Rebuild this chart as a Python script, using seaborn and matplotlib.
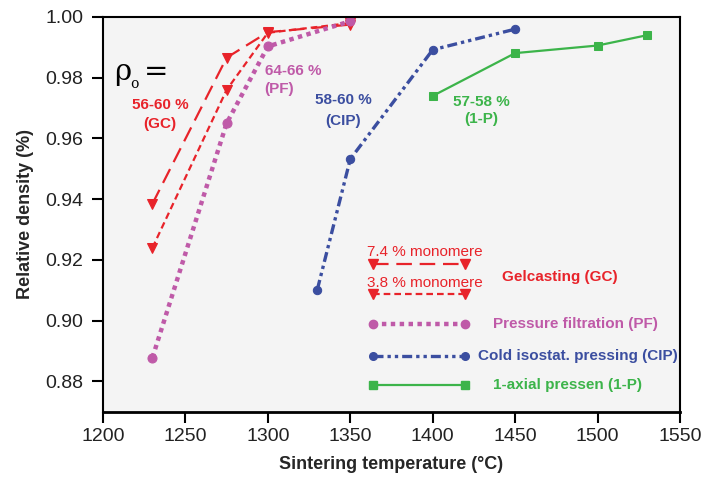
import matplotlib
matplotlib.use("Agg")
import matplotlib.pyplot as plt
import seaborn as sns
import numpy as np
from matplotlib.lines import Line2D

# ---- data ----
gc74_T = [1230, 1275, 1300, 1350]
gc74_rho = [0.9385, 0.9866, 0.9950, 0.9975]
gc38_T = [1230, 1275, 1300, 1350]
gc38_rho = [0.9240, 0.9760, 0.9948, 0.9980]
pf_T = [1230, 1275, 1300, 1350]
pf_rho = [0.8878, 0.9650, 0.9903, 0.9986]
cip_T = [1330, 1350, 1400, 1450]
cip_rho = [0.9102, 0.9532, 0.9892, 0.9960]
p1_T = [1400, 1450, 1500, 1530]
p1_rho = [0.9740, 0.9881, 0.9906, 0.9940]

xticks = [1200, 1250, 1300, 1350, 1400, 1450, 1500, 1550]
yticks = [0.88, 0.90, 0.92, 0.94, 0.96, 0.98, 1.00]

RED = "#e8232a"
PURPLE = "#bf5aa8"
BLUE = "#3b4ea0"
GREEN = "#3cb44a"

sns.set_style("ticks")
plt.rcParams["font.family"] = ["Liberation Sans", "DejaVu Sans"]

fig = plt.figure(figsize=(7.03, 4.80), dpi=100)
ax = fig.add_axes([0.1465, 0.1423, 0.8208, 0.8223])
ax.set_facecolor("#f4f4f4")

styles = {
    "gc74": dict(color=RED, linestyle=(0, (7, 3.5)), lw=1.6, marker="v", ms=7),
    "gc38": dict(color=RED, linestyle=(0, (3, 1.8)), lw=1.6, marker="v", ms=7),
    "pf": dict(color=PURPLE, linestyle=(0, (1, 1)), lw=3.2, marker="o", ms=6.5),
    "cip": dict(color=BLUE, linestyle=(0, (3, 1.2, 1, 1.2, 1, 1.2)), lw=2.4, marker="o", ms=6),
    "p1": dict(color=GREEN, linestyle="-", lw=1.6, marker="s", ms=6),
}
series = [("gc74", gc74_T, gc74_rho), ("gc38", gc38_T, gc38_rho),
          ("pf", pf_T, pf_rho), ("cip", cip_T, cip_rho), ("p1", p1_T, p1_rho)]
for key, T, R in series:
    s = styles[key]
    sns.lineplot(x=T, y=R, ax=ax, color=s["color"], linestyle=s["linestyle"],
                 linewidth=s["lw"], marker=s["marker"], markersize=s["ms"],
                 markeredgecolor=s["color"], markerfacecolor=s["color"],
                 sort=False, legend=False, clip_on=False,
                 dash_capstyle="butt")

ax.set_xlim(1200, 1550)
ax.set_ylim(0.870, 1.000)
ax.set_xticks(xticks)
ax.set_yticks(yticks)
ax.set_xticklabels([str(t) for t in xticks])
ax.set_yticklabels([f"{t:.2f}" for t in yticks])
ax.tick_params(axis="both", direction="out", length=8, width=1.5, labelsize=14,
               color="black", labelcolor="#222222")
ax.tick_params(axis="x", pad=4)
ax.tick_params(axis="y", pad=6)
for sp in ax.spines.values():
    sp.set_visible(True)
    sp.set_linewidth(1.5)
    sp.set_color("black")
ax.spines["bottom"].set_linewidth(2.0)

ax.set_xlabel("Sintering temperature (°C)", fontsize=13, fontweight="bold", labelpad=8)
ax.set_ylabel("Relative density (%)", fontsize=13, fontweight="bold", labelpad=8)

# ---- annotations ----
ax.text(1207, 0.9818, "ρ", fontsize=21, family="DejaVu Serif",
        ha="left", va="center", color="black")
ax.text(1216.8, 0.9778, "o", fontsize=10, family="DejaVu Serif",
        ha="left", va="center", color="black")
ax.text(1224.5, 0.9820, "=", fontsize=21, family="DejaVu Serif",
        ha="left", va="center", color="black")
ax.text(1234.6, 0.968, "56-60 %\n(GC)", color=RED, fontsize=11, fontweight="bold",
        ha="center", va="center", linespacing=1.45)
ax.text(1298, 0.9792, "64-66 %\n(PF)", color=PURPLE, fontsize=11, fontweight="bold",
        ha="left", va="center", linespacing=1.3)
ax.text(1345.8, 0.9691, "58-60 %\n(CIP)", color=BLUE, fontsize=11, fontweight="bold",
        ha="center", va="center", linespacing=1.65, multialignment="center")
ax.text(1429.6, 0.9693, "57-58 %\n(1-P)", color=GREEN, fontsize=11, fontweight="bold",
        ha="center", va="center", linespacing=1.3, multialignment="center")

# ---- manual legend (axes fraction) ----
x0, x1 = 0.468, 0.627
leg = [("gc74", 0.374), ("gc38", 0.298), ("pf", 0.222), ("cip", 0.141), ("p1", 0.068)]
for key, yy in leg:
    s = styles[key]
    ln = Line2D([x0, x1], [yy, yy], transform=ax.transAxes, color=s["color"],
                linestyle=s["linestyle"], linewidth=s["lw"], marker=s["marker"],
                markersize=s["ms"] - 0.5, markeredgecolor=s["color"],
                markerfacecolor=s["color"], clip_on=False, dash_capstyle="butt")
    ax.add_line(ln)

ax.text(0.4575, 0.405, "7.4 % monomere", transform=ax.transAxes, color=RED,
        fontsize=11, ha="left", va="center")
ax.text(0.4575, 0.326, "3.8 % monomere", transform=ax.transAxes, color=RED,
        fontsize=11, ha="left", va="center")
ax.text(0.6915, 0.341, "Gelcasting (GC)", transform=ax.transAxes, color=RED,
        fontsize=11, fontweight="bold", ha="left", va="center")
ax.text(0.676, 0.222, "Pressure filtration (PF)", transform=ax.transAxes, color=PURPLE,
        fontsize=11, fontweight="bold", ha="left", va="center")
ax.text(0.650, 0.141, "Cold isostat. pressing (CIP)", transform=ax.transAxes, color=BLUE,
        fontsize=11, fontweight="bold", ha="left", va="center")
ax.text(0.676, 0.068, "1-axial pressen (1-P)", transform=ax.transAxes, color=GREEN,
        fontsize=11, fontweight="bold", ha="left", va="center")

fig.savefig("out.png", dpi=100, facecolor="white")
